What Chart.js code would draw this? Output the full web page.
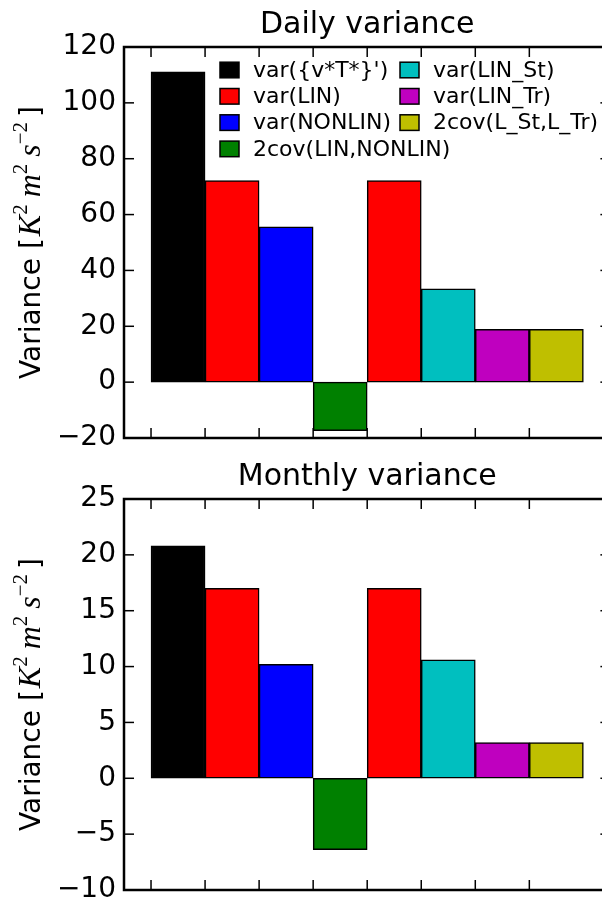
<!DOCTYPE html>
<html>
<head>
<meta charset="utf-8">
<script src="https://cdn.jsdelivr.net/npm/chart.js@4.4.0/dist/chart.umd.min.js"></script>
<style>
  html, body { margin: 0; padding: 0; background: #fff; overflow: hidden; width: 602px; height: 902px; }
  canvas { position: absolute; left: 0; }
  #dailyCanvas { top: 0; }
  #monthlyCanvas { top: 451px; }
</style>
</head>
<body>
<canvas id="dailyCanvas" width="620" height="451"></canvas>
<canvas id="monthlyCanvas" width="620" height="451"></canvas>
<script>
const categories = ["var({v*T*}')", 'var(LIN)', 'var(NONLIN)', '2cov(LIN,NONLIN)',
                    'var(LIN)', 'var(LIN_St)', 'var(LIN_Tr)', '2cov(L_St,L_Tr)'];
const dailyValues = [111.1, 72.2, 55.6, -17.4, 72.2, 33.4, 18.9, 18.9];
const monthlyValues = [20.8, 17.0, 10.2, -6.4, 17.0, 10.6, 3.2, 3.2];
const barColors = ['#000000', '#ff0000', '#0000ff', '#008000',
                   '#ff0000', '#00bfbf', '#bf00bf', '#bfbf00'];
const xTicks = [0, 1, 2, 3, 4, 5, 6, 7];
const dailyTicks = [-20, 0, 20, 40, 60, 80, 100, 120];
const monthlyTicks = [-10, -5, 0, 5, 10, 15, 20, 25];
const legendLabels = ["var({v*T*}')", 'var(LIN)', 'var(NONLIN)', '2cov(LIN,NONLIN)',
                      'var(LIN_St)', 'var(LIN_Tr)', '2cov(L_St,L_Tr)'];
const legendColors = ['#000000', '#ff0000', '#0000ff', '#008000', '#00bfbf', '#bf00bf', '#bfbf00'];

const SANS = '"DejaVu Sans"';
const SERIF = '"Liberation Serif"';

function line(ctx, x1, y1, x2, y2) {
  ctx.beginPath();
  ctx.moveTo(x1, y1);
  ctx.lineTo(x2, y2);
  ctx.stroke();
}

// y label with the math part: Variance [K^2 m^2 s^-2]
function drawYLabel(ctx, cx, cy) {
  const parts = [
    { t: 'Variance [', f: '28px ' + SANS, dy: 0, gap: 2 },
    { t: 'K', f: 'italic 32px ' + SERIF, dy: 0, gap: 0 },
    { t: '2', f: '21px ' + SERIF, dy: -13, gap: 7 },
    { t: 'm', f: 'italic 32px ' + SERIF, dy: 0, gap: 0 },
    { t: '2', f: '21px ' + SERIF, dy: -13, gap: 7 },
    { t: 's', f: 'italic 32px ' + SERIF, dy: 0, gap: 0 },
    { t: '\u22122', f: '21px ' + SERIF, dy: -13, gap: 5 },
    { t: ']', f: '28px ' + SANS, dy: 0, gap: 0 }
  ];
  ctx.save();
  let total = 0;
  parts.forEach(p => { ctx.font = p.f; p.w = ctx.measureText(p.t).width; total += p.w + p.gap; });
  ctx.translate(cx, cy);
  ctx.rotate(-Math.PI / 2);
  ctx.fillStyle = '#000';
  ctx.textBaseline = 'alphabetic';
  ctx.textAlign = 'left';
  let x = -total / 2;
  parts.forEach(p => {
    ctx.font = p.f;
    ctx.fillText(p.t, x, 10 + p.dy);
    x += p.w + p.gap;
  });
  ctx.restore();
}

const framePlugin = {
  id: 'frame',
  afterDraw(chart, args, opts) {
    const { ctx, chartArea: a } = chart;
    const x = chart.scales.x;
    const y = chart.scales.y;
    ctx.save();
    ctx.strokeStyle = '#000';
    ctx.lineWidth = 1.5;
    xTicks.forEach(v => {
      const px = x.getPixelForValue(v);
      line(ctx, px, a.top, px, a.top + 10);
      line(ctx, px, a.bottom, px, a.bottom - 10);
    });
    opts.yTicks.forEach(v => {
      const py = y.getPixelForValue(v);
      line(ctx, a.left, py, a.left + 10, py);
      line(ctx, a.right, py, a.right - 10, py);
    });
    ctx.lineWidth = 2.5;
    ctx.strokeRect(a.left, a.top, a.right - a.left, a.bottom - a.top);

    // title
    ctx.fillStyle = '#000';
    ctx.font = '30px ' + SANS;
    ctx.textAlign = 'center';
    ctx.textBaseline = 'alphabetic';
    ctx.fillText(opts.title, (a.left + a.right) / 2, a.top - 14);

    drawYLabel(ctx, 30, (a.top + a.bottom) / 2);

    // legend, two columns filled top to bottom
    if (opts.legend) {
      ctx.font = '22px ' + SANS;
      ctx.textAlign = 'left';
      ctx.textBaseline = 'middle';
      ctx.lineWidth = 1.5;
      legendLabels.forEach((lab, i) => {
        const col = i < 4 ? 0 : 1;
        const row = i < 4 ? i : i - 4;
        const bx = a.left + 96 + col * 180;
        const by = a.top + 23 + row * 26.3;
        ctx.fillStyle = legendColors[i];
        ctx.fillRect(bx, by - 7.8, 19, 15.6);
        ctx.strokeRect(bx, by - 7.8, 19, 15.6);
        ctx.fillStyle = '#000';
        ctx.fillText(lab, bx + 33, by + 1);
      });
    }
    ctx.restore();
  }
};

function makeChart(id, values, yTicks, title, showLegend, padTop, padBottom) {
  const ctx = document.getElementById(id).getContext('2d');
  return new Chart(ctx, {
    type: 'bar',
    data: {
      labels: categories,
      datasets: [{
        label: title,
        data: values.map((v, i) => ({ x: i + 0.5, y: v })),
        backgroundColor: barColors,
        borderColor: '#000',
        borderWidth: 1.5,
        borderSkipped: false,
        categoryPercentage: 1,
        barPercentage: 1
      }]
    },
    options: {
      responsive: false,
      animation: false,
      devicePixelRatio: 1,
      layout: { padding: { top: padTop, bottom: padBottom, left: 0, right: 9.6 } },
      plugins: {
        legend: { display: false },
        tooltip: { enabled: false },
        title: { display: false },
        frame: { title, yTicks, legend: showLegend }
      },
      scales: {
        x: {
          type: 'linear', min: -0.5, max: 8.5, offset: false, display: false,
          afterBuildTicks: s => { s.ticks = xTicks.map(v => ({ value: v })); }
        },
        y: {
          min: yTicks[0],
          max: yTicks[yTicks.length - 1],
          afterBuildTicks: s => { s.ticks = yTicks.map(v => ({ value: v })); },
          afterFit: s => { s.width = 124; },
          grid: { display: false, drawTicks: false },
          border: { display: false },
          ticks: {
            padding: 8,
            color: '#000',
            font: { family: 'DejaVu Sans', size: 28, lineHeight: 0.1 },
            callback: v => String(v).replace('-', '\u2212')
          }
        }
      }
    },
    plugins: [framePlugin]
  });
}

makeChart('dailyCanvas', dailyValues, dailyTicks, 'Daily variance', true, 47, 13);
makeChart('monthlyCanvas', monthlyValues, monthlyTicks, 'Monthly variance', false, 48, 12);
</script>
</body>
</html>
